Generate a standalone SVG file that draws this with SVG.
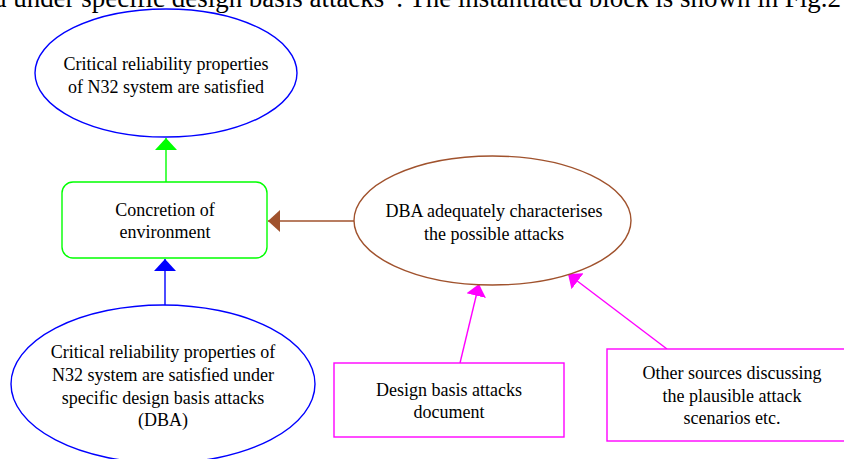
<svg xmlns="http://www.w3.org/2000/svg" width="844" height="459" viewBox="0 0 844 459">
  <style>
    text { font-family: "Liberation Serif", "Times New Roman", serif; font-size: 18px; fill: #000; text-anchor: middle; }
    .page { font-size: 27px; text-anchor: start; }
    .shape { fill: #fff; stroke-width: 1.4; }
    .edge { fill: none; stroke-width: 1.4; }
  </style>
  <defs>
    <marker id="ah-green" markerUnits="userSpaceOnUse" markerWidth="14" markerHeight="24" refX="12" refY="11" orient="auto" viewBox="0 0 14 24">
      <path d="M0,0 L12,11 L0,22 z" fill="#00ff00"/>
    </marker>
    <marker id="ah-blue" markerUnits="userSpaceOnUse" markerWidth="14" markerHeight="24" refX="12" refY="11" orient="auto" viewBox="0 0 14 24">
      <path d="M0,0 L12,11 L0,22 z" fill="#0000ff"/>
    </marker>
    <marker id="ah-brown" markerUnits="userSpaceOnUse" markerWidth="14" markerHeight="24" refX="12" refY="11" orient="auto" viewBox="0 0 14 24">
      <path d="M0,0 L12,11 L0,22 z" fill="#a0522d"/>
    </marker>
    <marker id="ah-magenta" markerUnits="userSpaceOnUse" markerWidth="14" markerHeight="24" refX="12" refY="11" orient="auto" viewBox="0 0 14 24">
      <path d="M0,1 L12,11 L0,21 z" fill="#ff00ff"/>
    </marker>
  </defs>
  <rect x="0" y="0" width="844" height="459" fill="#fff"/>

  <text class="page" x="-7" y="7" textLength="848" lengthAdjust="spacingAndGlyphs">d under specific design basis attacks”. The instantiated block is shown in Fig.2</text>

  <g id="connectors">
    <path class="edge" d="M166,182 L166,138" stroke="#00ff00" marker-end="url(#ah-green)"/>
    <path class="edge" d="M165,305 L165,259" stroke="#0000ff" marker-end="url(#ah-blue)"/>
    <path class="edge" d="M354,221 L268,221" stroke="#a0522d" marker-end="url(#ah-brown)"/>
    <path class="edge" d="M460,363 L479,284" stroke="#ff00ff" marker-end="url(#ah-magenta)"/>
    <path class="edge" d="M667,349 L568,274" stroke="#ff00ff" marker-end="url(#ah-magenta)"/>
  </g>

  <g id="goal-top">
    <ellipse class="shape" cx="166" cy="73" rx="131" ry="64" stroke="#0000ff"/>
    <text x="166" y="70">Critical reliability properties</text>
    <text x="166" y="93">of N32 system are satisfied</text>
  </g>

  <g id="strategy">
    <rect class="shape" x="62" y="182" width="205" height="76" rx="11" ry="11" stroke="#00ff00"/>
    <text x="165" y="216">Concretion of</text>
    <text x="165" y="238">environment</text>
  </g>

  <g id="goal-dba">
    <ellipse class="shape" cx="163" cy="384" rx="152" ry="79" stroke="#0000ff"/>
    <text x="163" y="358">Critical reliability properties of</text>
    <text x="163" y="381">N32 system are satisfied under</text>
    <text x="163" y="404">specific design basis attacks</text>
    <text x="163" y="426">(DBA)</text>
  </g>

  <g id="assumption">
    <ellipse class="shape" cx="492.5" cy="220.5" rx="138.5" ry="64.5" stroke="#a0522d"/>
    <text x="494" y="217">DBA adequately characterises</text>
    <text x="494" y="240">the possible attacks</text>
  </g>

  <g id="evidence-doc">
    <rect class="shape" x="334" y="363" width="230" height="74" stroke="#ff00ff"/>
    <text x="449" y="396">Design basis attacks</text>
    <text x="449" y="418">document</text>
  </g>

  <g id="evidence-other">
    <rect class="shape" x="607" y="349" width="251" height="92" stroke="#ff00ff"/>
    <text x="732" y="379">Other sources discussing</text>
    <text x="732" y="402">the plausible attack</text>
    <text x="732" y="424">scenarios etc.</text>
  </g>
</svg>
